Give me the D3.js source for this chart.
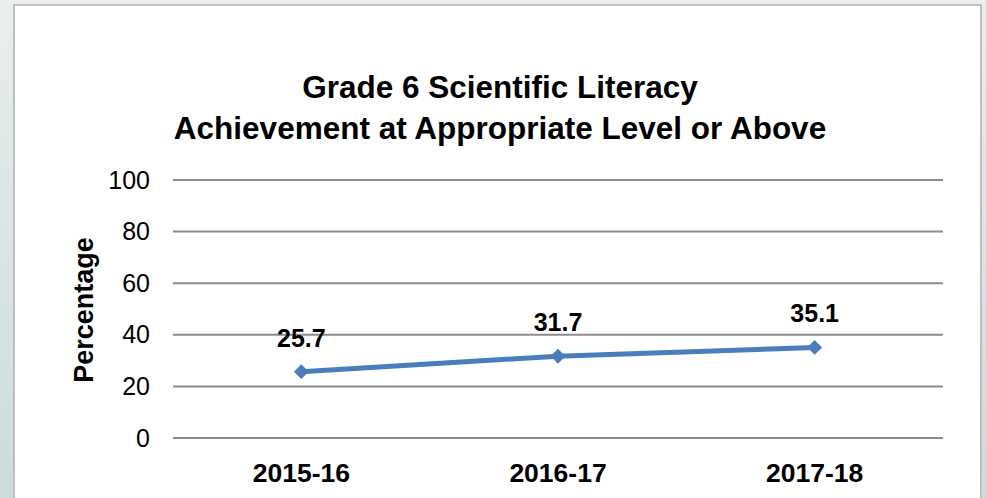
<!DOCTYPE html>
<html>
<head>
<meta charset="utf-8">
<script src="https://cdn.jsdelivr.net/npm/d3@7"></script>
<style>
  html, body { margin: 0; padding: 0; }
  body { width: 986px; height: 498px; overflow: hidden; }
  text { font-family: "Liberation Sans", Arial, sans-serif; }
</style>
</head>
<body>
<svg id="chart" width="986" height="498"></svg>
<script>
// chart data
const years = ["2015-16", "2016-17", "2017-18"];
const values = [25.7, 31.7, 35.1];
const yTicks = [0, 20, 40, 60, 80, 100];
const titleLines = ["Grade 6 Scientific Literacy", "Achievement at Appropriate Level or Above"];

const svg = d3.select("#chart");

// background gradient behind the white panel
const defs = svg.append("defs");
const grad = defs.append("linearGradient").attr("id", "bg")
    .attr("x1", 0).attr("y1", 0).attr("x2", 0).attr("y2", 1);
grad.append("stop").attr("offset", "0%").attr("stop-color", "#eaeeee");
grad.append("stop").attr("offset", "100%").attr("stop-color", "#cadcdc");
svg.append("rect").attr("width", 986).attr("height", 498).attr("fill", "url(#bg)");

// white panel
svg.append("rect")
    .attr("x", 14).attr("y", 5)
    .attr("width", 967).attr("height", 500)
    .attr("fill", "#ffffff")
    .attr("stroke", "#bfbfbf")
    .attr("stroke-width", 2);

const margin = { left: 173, right: 43, top: 180, bottom: 60 };
const w = 986 - margin.left - margin.right;
const h = 498 - margin.top - margin.bottom;

const g = svg.append("g").attr("transform", `translate(${margin.left},${margin.top})`);

const x = d3.scaleBand().domain(years).range([0, w]);
const y = d3.scaleLinear().domain([0, 100]).range([h, 0]);

// gridlines
g.selectAll("line.grid")
    .data(yTicks)
    .enter().append("line")
    .attr("class", "grid")
    .attr("x1", 0).attr("x2", w)
    .attr("y1", d => y(d)).attr("y2", d => y(d))
    .attr("stroke", "#8c8c8c")
    .attr("stroke-width", 2);

// y axis labels
const yAxis = d3.axisLeft(y).tickValues(yTicks).tickSize(0).tickPadding(23);
const ya = g.append("g").call(yAxis);
ya.select(".domain").remove();
ya.selectAll("text")
    .attr("font-family", "Liberation Sans, Arial, sans-serif")
    .attr("font-size", 25)
    .attr("fill", "#000");

// x axis labels
const xAxis = d3.axisBottom(x).tickSize(0).tickPadding(25);
const xa = g.append("g").attr("transform", `translate(0,${h})`).call(xAxis);
xa.select(".domain").remove();
xa.selectAll("text")
    .attr("font-family", "Liberation Sans, Arial, sans-serif")
    .attr("font-size", 26.5)
    .attr("font-weight", "bold")
    .attr("fill", "#000");

// line
const cx = d => x(d) + x.bandwidth() / 2;
const line = d3.line()
    .x((d, i) => cx(years[i]))
    .y(d => y(d));

g.append("path")
    .datum(values)
    .attr("d", line)
    .attr("fill", "none")
    .attr("stroke", "#4a7ebb")
    .attr("stroke-width", 5);

// diamond markers (square turned 45 degrees)
g.selectAll("path.marker")
    .data(values)
    .enter().append("path")
    .attr("class", "marker")
    .attr("d", d3.symbol().type(d3.symbolSquare).size(110))
    .attr("transform", (d, i) => `translate(${cx(years[i])},${y(d)}) rotate(45)`)
    .attr("fill", "#4a7ebb");

// value labels
g.selectAll("text.val")
    .data(values)
    .enter().append("text")
    .attr("class", "val")
    .attr("x", (d, i) => cx(years[i]))
    .attr("y", d => y(d) - 25)
    .attr("text-anchor", "middle")
    .attr("font-size", 25)
    .attr("font-weight", "bold")
    .text(d => d.toFixed(1));

// y axis title
svg.append("text")
    .attr("transform", "translate(93,310) rotate(-90)")
    .attr("text-anchor", "middle")
    .attr("font-size", 27)
    .attr("font-weight", "bold")
    .text("Percentage");

// chart title
svg.selectAll("text.title")
    .data(titleLines)
    .enter().append("text")
    .attr("class", "title")
    .attr("x", 500)
    .attr("y", (d, i) => 98 + i * 41)
    .attr("text-anchor", "middle")
    .attr("font-size", 31.5)
    .attr("font-weight", "bold")
    .text(d => d);
</script>
</body>
</html>
